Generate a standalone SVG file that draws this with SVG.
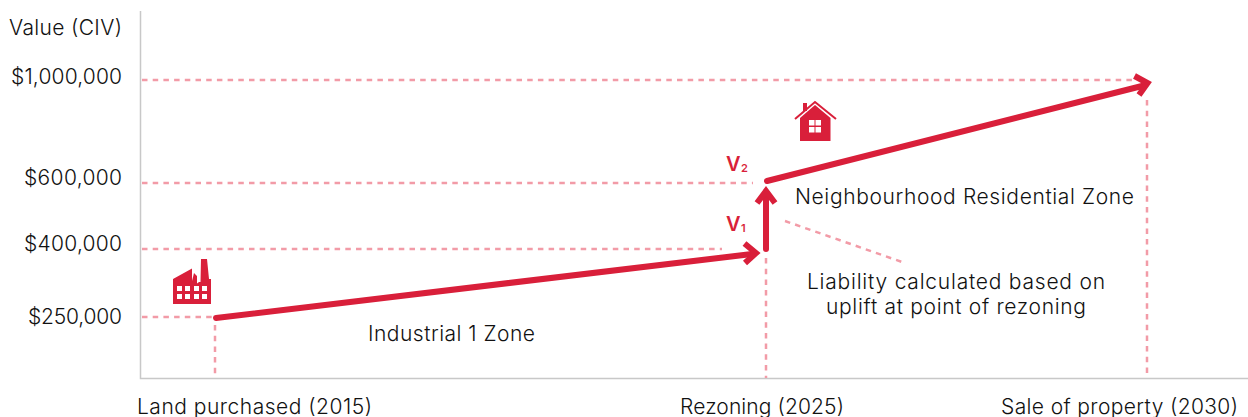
<svg xmlns="http://www.w3.org/2000/svg" width="1248" height="417" viewBox="0 0 1248 417">
<style>
text{font-family:"Inter","Noto Sans","Liberation Sans",sans-serif;font-size:21px;fill:#111;font-weight:300}
.d{fill:none;stroke:#f29ba7;stroke-width:2.500;stroke-dasharray:5.500 5.200}
.r{fill:none;stroke:#d91f3a;stroke-width:6;stroke-linecap:round;stroke-linejoin:miter}
.h{fill:none;stroke:#d91f3a;stroke-width:6;stroke-linecap:butt;stroke-linejoin:miter}
.i{fill:#d91f3a}
.w{fill:#fff}
text.v{fill:#d91f3a;font-weight:600;font-size:20px}
text.s{fill:#d91f3a;font-weight:600;font-size:11px}
</style>
<rect width="1248" height="417" fill="#fff"/>
<g id="axes"><path d="M140.500 11V378.500H1248" fill="none" stroke="#c8c8c8" stroke-width="1.500"/></g>
<g id="connectors">
<path class="d" d="M142 80H1132"/>
<path class="d" d="M142 183H753"/>
<path class="d" d="M142 249H722"/>
<path class="d" d="M142 317H212"/>
<path class="d" d="M215 325V376"/>
<path class="d" d="M766 258V378"/>
<path class="d" d="M1147 100V378"/>
<path class="d" d="M785 221L902 262"/>
<path class="r" d="M216 318L752 254"/>
<path class="h" d="M744.500 243.500L756 253L745 263"/>
<path class="r" d="M766 249V196"/>
<path class="h" d="M757 203L766 191L775 203"/>
<path class="r" d="M767 181L1142 86"/>
<path class="h" d="M1134.500 76L1147.500 83L1139 95"/>
</g>
<g id="y-labels">
<text x="9" y="35" textLength="113">Value (CIV)</text>
<text x="11" y="84" textLength="111">$1,000,000</text>
<text x="24" y="185" textLength="98">$600,000</text>
<text x="24" y="251" textLength="98">$400,000</text>
<text x="28" y="323.500" textLength="94">$250,000</text>
</g>
<g id="x-labels">
<text x="137" y="413.500" textLength="235">Land purchased (2015)</text>
<text x="680" y="413.500" textLength="164">Rezoning (2025)</text>
<text x="1001" y="413.500" textLength="237">Sale of property (2030)</text>
</g>
<g id="zone-labels">
<text x="368" y="340.500" textLength="167">Industrial 1 Zone</text>
<text x="795" y="204" textLength="339">Neighbourhood Residential Zone</text>
<text x="807" y="288.500" textLength="298">Liability calculated based on</text>
<text x="826" y="313.500" textLength="260">uplift at point of rezoning</text>
</g>
<g id="v-labels">
<text class="v" x="726" y="171">V</text><text class="s" x="741" y="172">2</text>
<text class="v" x="726" y="231">V</text><text class="s" x="741" y="232">1</text>
</g>
<g id="factory">
<path class="i" d="M173 279L192 268.500V281L194 273L197 276V283.500L199 282H200.500L201 259H207L209 279H211V304H173Z"/>
<g class="w"><rect x="177" y="286" width="5" height="5"/><rect x="185" y="286" width="5" height="5"/><rect x="194" y="286" width="5" height="5"/><rect x="202" y="286" width="5" height="5"/><rect x="177" y="294" width="5" height="5"/><rect x="185" y="294" width="5" height="5"/><rect x="194" y="294" width="5" height="5"/><rect x="202" y="294" width="5" height="5"/></g>
</g>
<g id="house">
<path class="i" d="M800 118V141H830.500V118L815 105Z"/>
<path class="i" d="M803 103H807V111H803Z"/>
<path d="M795 119L815 102L836 119" fill="none" stroke="#d91f3a" stroke-width="2"/>
<g class="w"><rect x="809" y="120" width="5.500" height="5.500"/><rect x="815.500" y="120" width="5.500" height="5.500"/><rect x="809" y="127" width="5.500" height="5.500"/><rect x="815.500" y="127" width="5.500" height="5.500"/></g>
</g>
</svg>
